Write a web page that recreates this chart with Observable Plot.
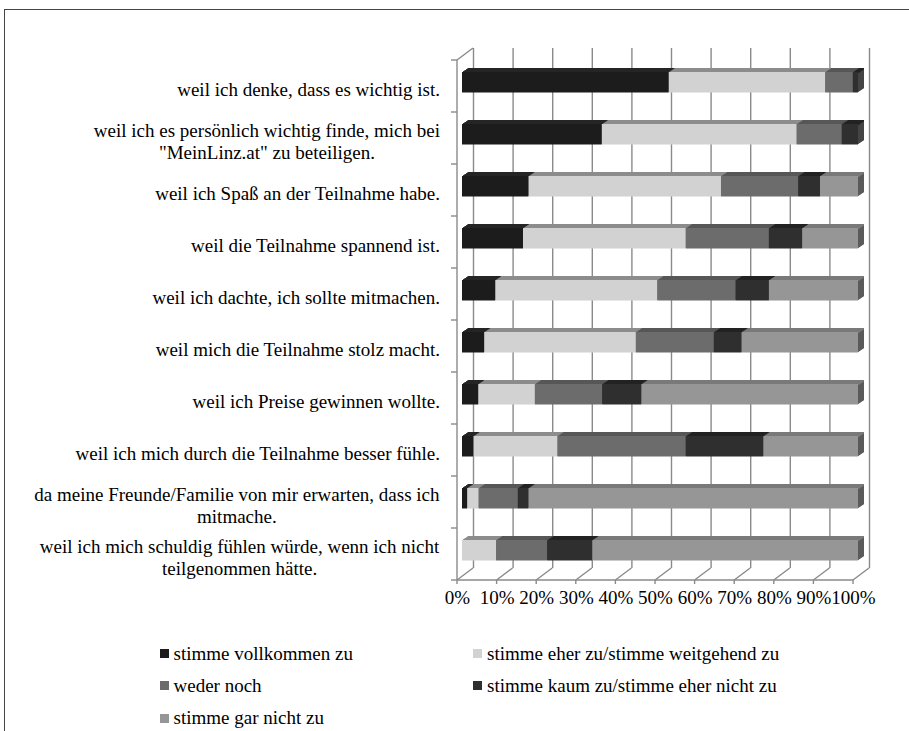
<!DOCTYPE html>
<html><head><meta charset="utf-8">
<script src="https://cdn.jsdelivr.net/npm/d3@7"></script>
<script src="https://cdn.jsdelivr.net/npm/@observablehq/plot@0.6"></script>
<style>
html,body{margin:0;padding:0;background:#fff;}
body{width:909px;height:731px;position:relative;overflow:hidden;font-family:"Liberation Serif","Times New Roman",serif;}
#frame{position:absolute;left:4px;top:9px;width:1000px;height:1000px;border-left:1.5px solid #444;border-top:1.5px solid #444;}
#chart{position:absolute;left:0;top:0;}
#legend{position:absolute;left:159.5px;top:637.5px;display:grid;grid-template-columns:313.5px auto;grid-auto-rows:32.3px;}
.item{display:flex;align-items:center;font-size:19px;color:#000;white-space:nowrap;}
.sw{width:9px;height:9px;margin-right:5px;flex:none;}
</style></head><body>
<div id="frame"></div>
<div id="chart"></div>
<div id="legend"></div>
<script>
const categories = [
  "weil ich denke, dass es wichtig ist.",
  "weil ich es persönlich wichtig finde, mich bei \"MeinLinz.at\" zu beteiligen.",
  "weil ich Spaß an der Teilnahme habe.",
  "weil die Teilnahme spannend ist.",
  "weil ich dachte, ich sollte mitmachen.",
  "weil mich die Teilnahme stolz macht.",
  "weil ich Preise gewinnen wollte.",
  "weil ich mich durch die Teilnahme besser fühle.",
  "da meine Freunde/Familie von mir erwarten, dass ich mitmache.",
  "weil ich mich schuldig fühlen würde, wenn ich nicht teilgenommen hätte."
];
const categoryLabels = [
  "weil ich denke, dass es wichtig ist.",
  "weil ich es persönlich wichtig finde, mich bei\n\"MeinLinz.at\" zu beteiligen.",
  "weil ich Spaß an der Teilnahme habe.",
  "weil die Teilnahme spannend ist.",
  "weil ich dachte, ich sollte mitmachen.",
  "weil mich die Teilnahme stolz macht.",
  "weil ich Preise gewinnen wollte.",
  "weil ich mich durch die Teilnahme besser fühle.",
  "da meine Freunde/Familie von mir erwarten, dass ich\nmitmache.",
  "weil ich mich schuldig fühlen würde, wenn ich nicht\nteilgenommen hätte."
];
const series = [
  "stimme vollkommen zu",
  "stimme eher zu/stimme weitgehend zu",
  "weder noch",
  "stimme kaum zu/stimme eher nicht zu",
  "stimme gar nicht zu"
];
const vollkommen = [52.2, 35.3, 16.8, 15.4, 8.4, 5.6, 4.1, 2.9, 1.3, 0];
const eherZu     = [39.5, 49.2, 48.6, 41.1, 40.9, 38.3, 14.3, 21.2, 2.9, 8.6];
const wederNoch  = [7.0, 11.4, 19.5, 21.0, 19.8, 19.7, 17.0, 32.4, 9.9, 12.9];
const kaum       = [1.3, 4.1, 5.5, 8.4, 8.4, 7.0, 9.9, 19.6, 2.7, 11.4];
const garNicht   = [0, 0, 9.6, 14.1, 22.5, 29.4, 54.7, 23.9, 83.2, 67.1];
const seriesValues = [vollkommen, eherZu, wederNoch, kaum, garNicht];

const frontColors = ["#1c1c1c", "#d2d2d2", "#6c6c6c", "#2f2f2f", "#969696"];
const topColors   = ["#262626", "#8c8c8c", "#575757", "#232323", "#7a7a7a"];
const sideColors  = ["#111111", "#9a9a9a", "#4a4a4a", "#444444", "#5a5a5a"];

const xTicks = [0, 10, 20, 30, 40, 50, 60, 70, 80, 90, 100];
const xTickLabels = ["0%", "10%", "20%", "30%", "40%", "50%", "60%", "70%", "80%", "90%", "100%"];

const data = [];
categories.forEach((c, i) => series.forEach((s, j) => data.push({category: c, series: s, si: j, value: seriesValues[j][i]})));

const GRID = "#8a8a8a";

function decor(...args) {
  const scales = args.find(a => a && typeof a.x === "function");
  const dims = args.find(a => a && a.marginLeft !== undefined);
  const {x, y} = scales;
  const bottom = dims.height - dims.marginBottom, top = dims.marginTop;
  const x0 = x(0), x1 = x(100);
  const g = d3.create("svg:g").attr("stroke", GRID).attr("stroke-width", 1.4).attr("fill", "none");
  const line = (a, b, c, d) => g.append("line").attr("x1", a).attr("y1", b).attr("x2", c).attr("y2", d);
  line(x0, top, x0, bottom);
  line(x0, bottom, x1, bottom);
  line(x0, top, x0 + 16, top - 12);
  for (const v of xTicks) {
    line(x(v), bottom, x(v) + 16, bottom - 12);
    line(x(v), bottom, x(v), bottom + 4);
  }
  for (const c of categories) line(x0 - 6, y(c), x0, y(c));
  line(x0 - 6, bottom, x0, bottom);
  return g.node();
}

const barOpts = (colors, k, insetBottom) => Plot.stackX({
  x: "value", y: "category", z: "series",
  fill: d => colors[d.si],
  dx: 5 + k, dy: -4 - (2 * k) / 3,
  insetTop: 16, insetBottom
});

const layers = [];
for (let k = 6; k >= 1; k--) layers.push(Plot.barX(data, barOpts(sideColors, k, 15.5)));
for (let k = 6; k >= 1; k--) layers.push(Plot.barX(data, barOpts(topColors, k, 34.3)));

const plot = Plot.plot({
  width: 909,
  height: 620,
  marginLeft: 457,
  marginRight: 56,
  marginTop: 60,
  marginBottom: 40,
  style: {fontFamily: "'Liberation Serif', 'Times New Roman', serif", fontSize: "19px", background: "transparent", overflow: "visible", color: "#000"},
  x: {domain: [0, 100], axis: null},
  y: {type: "band", domain: categories, padding: 0, axis: null},
  color: {type: "identity"},
  marks: [
    Plot.ruleX(xTicks, {x: d => d, dx: 16, dy: -12, stroke: GRID, strokeWidth: 1.4}),
    decor,
    ...layers,
    Plot.barX(data, barOpts(frontColors, 0, 15.5)),
    Plot.text(categories, {
      y: d => d, text: (d, i) => categoryLabels[i],
      frameAnchor: "left", textAnchor: "middle",
      fontSize: 19, lineHeight: 22 / 19, dy: 2, fill: "#000"
    }),
    Plot.text(xTicks, {
      x: d => d, text: (d, i) => xTickLabels[i],
      frameAnchor: "bottom", dy: 23, fontSize: 19, fill: "#000"
    })
  ]
});

document.getElementById("chart").append(plot);

// right-align the (centred, multi-line) category labels next to the left wall
const svgR = plot.getBoundingClientRect();
const labelRight = plot.scale("x").apply(0) - 17;
const textGroups = plot.querySelectorAll('g[aria-label="text"]');
textGroups[0].querySelectorAll(":scope > text").forEach(t => {
  const r = t.getBoundingClientRect();
  const shift = labelRight - (r.right - svgR.left);
  t.setAttribute("transform", (t.getAttribute("transform") || "") + ` translate(${shift},0)`);
});

const legend = document.getElementById("legend");
series.forEach((s, j) => {
  const item = document.createElement("div");
  item.className = "item";
  const sw = document.createElement("span");
  sw.className = "sw";
  sw.style.background = frontColors[j];
  const label = document.createElement("span");
  label.textContent = s;
  item.append(sw, label);
  legend.append(item);
});
</script></body></html>
